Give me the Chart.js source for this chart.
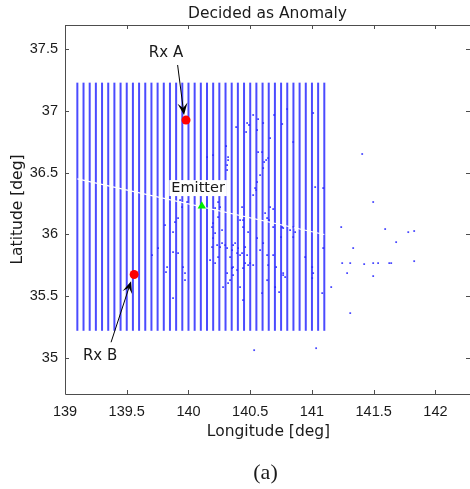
<!DOCTYPE html>
<html>
<head>
<meta charset="utf-8">
<script src="https://cdn.jsdelivr.net/npm/chart.js@4"></script>
<style>
  body { margin: 0; background: #fff; }
  canvas { display: block; }
</style>
</head>
<body>
<canvas id="myChart" width="470" height="489"></canvas>
<script>
// measurement grid columns (longitude) and their latitude extent
const gridLons = [139.10, 139.15, 139.20, 139.25, 139.30, 139.35, 139.40, 139.45, 139.50, 139.55,
  139.60, 139.65, 139.70, 139.75, 139.80, 139.85, 139.90, 139.95, 140.00, 140.05,
  140.10, 140.15, 140.20, 140.25, 140.30, 140.35, 140.40, 140.45, 140.50, 140.55,
  140.60, 140.65, 140.70, 140.75, 140.80, 140.85, 140.90, 140.95, 141.00, 141.05, 141.10];
const gridLatRange = [35.22, 37.23];

// thin strip with no grid points
const gapLons = [139.10, 141.10];
const gapLats = [36.45, 36.00];

// points decided as anomaly
const anomalyLon = [140.799, 141.010, 140.564, 140.605, 140.491, 140.694, 140.386, 140.556, 140.759, 140.467,
  140.661, 140.848, 140.305, 140.596, 140.564, 140.151, 140.321, 140.199, 140.645, 141.407,
  140.321, 140.313, 140.629, 140.605, 140.313, 140.613, 140.580, 140.556, 140.540, 140.524,
  140.548, 140.661, 140.686, 140.621, 141.496, 141.026, 141.091, 139.932, 139.948, 139.989,
  140.240, 140.216, 140.199, 139.891, 139.810, 139.875, 139.916, 140.653, 140.686, 140.767,
  140.823, 140.848, 140.750, 140.483, 140.556, 140.199, 140.191, 140.232, 140.272, 140.313,
  140.361, 140.402, 140.394, 140.337, 140.240, 140.459, 140.475, 140.361, 140.442, 140.361,
  140.337, 140.418, 140.442, 140.524, 140.580, 140.686, 140.767, 140.783, 141.002, 141.010,
  141.002, 141.083, 141.156, 141.091, 139.705, 139.754, 139.875, 139.916, 139.956, 139.972,
  139.875, 139.827, 141.237, 141.593, 141.780, 141.828, 141.682, 141.334, 141.245, 141.310,
  141.423, 141.496, 141.536, 141.626, 141.642, 141.828, 141.285, 141.496, 141.310, 140.532,
  141.034, 140.175, 140.216, 140.256, 140.297, 140.353, 140.378, 140.418, 140.459, 140.313,
  140.321, 140.280, 140.353, 140.394, 140.483, 139.818, 139.972, 140.434, 140.499, 140.605,
  140.637, 140.645, 140.710, 140.767, 140.702, 140.734, 140.596, 140.637, 140.945, 140.434,
  140.442, 140.637, 140.759, 140.848, 140.864, 140.256, 140.240, 140.272, 140.418, 140.442,
  140.216, 140.191, 140.475, 140.524];
const anomalyLat = [37.016, 36.984, 36.935, 36.903, 36.887, 36.968, 36.870, 36.846, 36.895, 36.830,
  36.781, 36.749, 36.716, 36.668, 36.668, 36.627, 36.627, 36.643, 36.619, 36.652,
  36.603, 36.562, 36.603, 36.538, 36.522, 36.587, 36.481, 36.425, 36.376, 36.319,
  36.360, 36.222, 36.206, 36.173, 36.263, 36.384, 36.376, 36.279, 36.222, 36.263,
  36.263, 36.214, 36.092, 36.101, 36.076, 36.019, 36.133, 36.117, 36.060, 36.052,
  36.036, 35.979, 35.979, 36.019, 35.971, 35.971, 35.898, 35.914, 35.930, 35.890,
  35.914, 35.890, 35.849, 35.817, 35.817, 35.898, 35.833, 35.736, 35.728, 35.671,
  35.630, 35.574, 35.468, 35.752, 35.874, 35.833, 35.687, 35.655, 35.736, 35.687,
  35.647, 35.525, 35.574, 35.890, 35.833, 35.890, 35.857, 35.849, 35.736, 35.630,
  35.485, 35.736, 36.060, 36.044, 36.019, 36.028, 35.938, 35.890, 35.768, 35.768,
  35.760, 35.768, 35.768, 35.768, 35.768, 35.784, 35.687, 35.663, 35.363, 35.063,
  35.079, 35.793, 35.768, 35.898, 35.914, 35.874, 35.930, 35.833, 35.768, 35.687,
  35.606, 35.574, 35.728, 35.712, 35.752, 35.695, 35.687, 35.849, 35.768, 35.930,
  35.833, 35.752, 35.736, 35.671, 35.574, 35.533, 35.525, 35.630, 35.817, 36.222,
  36.117, 36.133, 36.060, 36.060, 36.019, 36.222, 36.141, 36.036, 36.117, 36.060,
  36.011, 36.060, 36.903, 36.968];

// receivers and emitter
const rxNames = ['Rx A', 'Rx B'];
const rxLon = [139.98, 139.56];
const rxLat = [36.927, 35.676];
const emitterLon = [140.108];
const emitterLat = [36.23];

// annotation arrows: label position, arrow tail, arrow tip (deg)
const rxLabelLon = [139.818, 139.284];
const rxLabelLat = [37.470, 35.016];
const rxTailLon = [139.912, 139.373];
const rxTailLat = [37.373, 35.127];
const rxTipLon = [139.964, 139.535];
const rxTipLat = [36.968, 35.622];
const emitterLabelLon = 140.078;
const emitterLabelLat = 36.376;

const xTicks = [139, 139.5, 140, 140.5, 141, 141.5, 142];
const yTicks = [35, 35.5, 36, 36.5, 37, 37.5];

const blue = 'rgba(50,50,255,0.88)';
const axisColor = '#4d4d4d';
const textColor = '#1a1a1a';

const gridSets = gridLons.map(lon => ({
  type: 'scatter',
  data: [{x: lon, y: gridLatRange[0]}, {x: lon, y: gridLatRange[1]}],
  showLine: true,
  borderColor: blue,
  borderWidth: 2,
  pointRadius: 0,
  order: 10
}));

const datasets = [
  {
    label: 'Rx',
    data: rxLon.map((v, i) => ({x: v, y: rxLat[i]})),
    pointStyle: 'circle',
    pointRadius: 4.5,
    backgroundColor: '#ff0000',
    borderWidth: 0,
    order: 1
  },
  {
    label: 'Emitter',
    data: emitterLon.map((v, i) => ({x: v, y: emitterLat[i]})),
    pointStyle: 'triangle',
    pointRadius: 4.8,
    backgroundColor: '#00ee00',
    borderWidth: 0,
    order: 2
  },
  {
    label: 'Anomaly',
    data: anomalyLon.map((v, i) => ({x: v, y: anomalyLat[i]})),
    pointStyle: 'rect',
    pointRadius: 1.25,
    backgroundColor: 'rgba(40,40,255,0.85)',
    borderWidth: 0,
    order: 3
  },
  {
    label: 'gap',
    data: gapLons.map((v, i) => ({x: v, y: gapLats[i]})),
    showLine: true,
    borderColor: '#ffffff',
    borderWidth: 1.2,
    pointRadius: 0,
    order: 5
  }
].concat(gridSets);

function arrow(ctx, x0, y0, x1, y1) {
  const a = Math.atan2(y1 - y0, x1 - x0);
  const L = 12, W = 5, N = 7;
  ctx.beginPath();
  ctx.moveTo(x0, y0);
  ctx.lineTo(x1 - Math.cos(a) * N, y1 - Math.sin(a) * N);
  ctx.strokeStyle = '#000';
  ctx.lineWidth = 1;
  ctx.stroke();
  const bx = x1 - Math.cos(a) * L, by = y1 - Math.sin(a) * L;
  const px = -Math.sin(a) * W, py = Math.cos(a) * W;
  ctx.beginPath();
  ctx.moveTo(x1, y1);
  ctx.lineTo(bx + px, by + py);
  ctx.lineTo(x1 - Math.cos(a) * N, y1 - Math.sin(a) * N);
  ctx.lineTo(bx - px, by - py);
  ctx.closePath();
  ctx.fillStyle = '#000';
  ctx.fill();
}

const decorations = {
  id: 'decorations',
  afterDatasetsDraw(chart) {
    const {ctx, scales: {x, y}} = chart;
    ctx.save();
    // receiver labels and arrows
    ctx.font = '15px "DejaVu Sans"';
    ctx.textAlign = 'center';
    ctx.textBaseline = 'middle';
    rxNames.forEach((name, i) => {
      arrow(ctx, x.getPixelForValue(rxTailLon[i]), y.getPixelForValue(rxTailLat[i]),
        x.getPixelForValue(rxTipLon[i]), y.getPixelForValue(rxTipLat[i]));
      ctx.fillStyle = textColor;
      ctx.fillText(name, x.getPixelForValue(rxLabelLon[i]), y.getPixelForValue(rxLabelLat[i]));
    });
    // emitter label on white box
    const ex = x.getPixelForValue(emitterLabelLon), ey = y.getPixelForValue(emitterLabelLat);
    ctx.font = '14.5px "DejaVu Sans"';
    const w = ctx.measureText('Emitter').width + 4;
    ctx.fillStyle = '#fff';
    ctx.fillRect(ex - w / 2, ey - 8, w, 16);
    ctx.fillStyle = textColor;
    ctx.fillText('Emitter', ex, ey);
    ctx.restore();
  },
  afterDraw(chart) {
    const {ctx, chartArea: a, scales: {x, y}} = chart;
    ctx.save();
    // axes box and inner ticks
    ctx.strokeStyle = axisColor;
    ctx.lineWidth = 1;
    ctx.beginPath();
    ctx.moveTo(a.left + 0.5, a.top + 0.5);
    ctx.lineTo(a.right + 0.5, a.top + 0.5);
    ctx.moveTo(a.left + 0.5, a.top);
    ctx.lineTo(a.left + 0.5, a.bottom + 0.5);
    ctx.lineTo(a.right + 0.5, a.bottom + 0.5);
    xTicks.forEach(v => {
      const px = Math.round(x.getPixelForValue(v)) + 0.5;
      ctx.moveTo(px, a.bottom); ctx.lineTo(px, a.bottom - 4);
      ctx.moveTo(px, a.top); ctx.lineTo(px, a.top + 4);
    });
    yTicks.forEach(v => {
      const py = Math.round(y.getPixelForValue(v)) + 0.5;
      ctx.moveTo(a.left, py); ctx.lineTo(a.left + 4, py);
      ctx.moveTo(a.right, py); ctx.lineTo(a.right - 4, py);
    });
    ctx.stroke();
    // title, axis titles, caption
    const cx = (a.left + a.right) / 2;
    ctx.fillStyle = textColor;
    ctx.textAlign = 'center';
    ctx.textBaseline = 'middle';
    ctx.font = '15.5px "DejaVu Sans"';
    ctx.fillText('Decided as Anomaly', cx, 14);
    ctx.fillText('Longitude [deg]', cx + 1, 432);
    ctx.save();
    ctx.translate(18, (a.top + a.bottom) / 2);
    ctx.rotate(-Math.PI / 2);
    ctx.fillText('Latitude [deg]', 0, 0);
    ctx.restore();
    ctx.font = '22px "Liberation Serif"';
    ctx.fillText('(a)', cx - 2, 473);
    ctx.restore();
  }
};

const config = {
  type: 'scatter',
  data: { datasets: datasets },
  options: {
    responsive: false,
    animation: false,
    devicePixelRatio: 1,
    layout: { autoPadding: false, padding: { top: 25, right: 0, bottom: 0, left: 0 } },
    plugins: { legend: { display: false }, tooltip: { enabled: false } },
    scales: {
      x: {
        type: 'linear',
        min: 139,
        max: 142.28,
        afterBuildTicks: s => { s.ticks = xTicks.map(v => ({value: v})); },
        afterFit: s => { s.height = 95; s.paddingLeft = 0; s.paddingRight = 0; },
        grid: { display: true, drawOnChartArea: false, drawTicks: false },
        border: { display: false },
        ticks: {
          autoSkip: false, maxRotation: 0, padding: 9,
          color: textColor,
          font: { family: '"Liberation Sans"', size: 14.5 },
          callback: v => String(v)
        }
      },
      y: {
        type: 'linear',
        min: 34.708,
        max: 37.697,
        afterBuildTicks: s => { s.ticks = yTicks.map(v => ({value: v})); },
        afterFit: s => { s.width = 65; s.paddingTop = 0; s.paddingBottom = 0; },
        grid: { display: true, drawOnChartArea: false, drawTicks: false },
        border: { display: false },
        ticks: {
          autoSkip: false, padding: 7,
          color: textColor,
          font: { family: '"Liberation Sans"', size: 14.5 },
          callback: v => String(v)
        }
      }
    }
  },
  plugins: [decorations]
};

const myChart = new Chart(document.getElementById('myChart'), config);
</script>
</body>
</html>
